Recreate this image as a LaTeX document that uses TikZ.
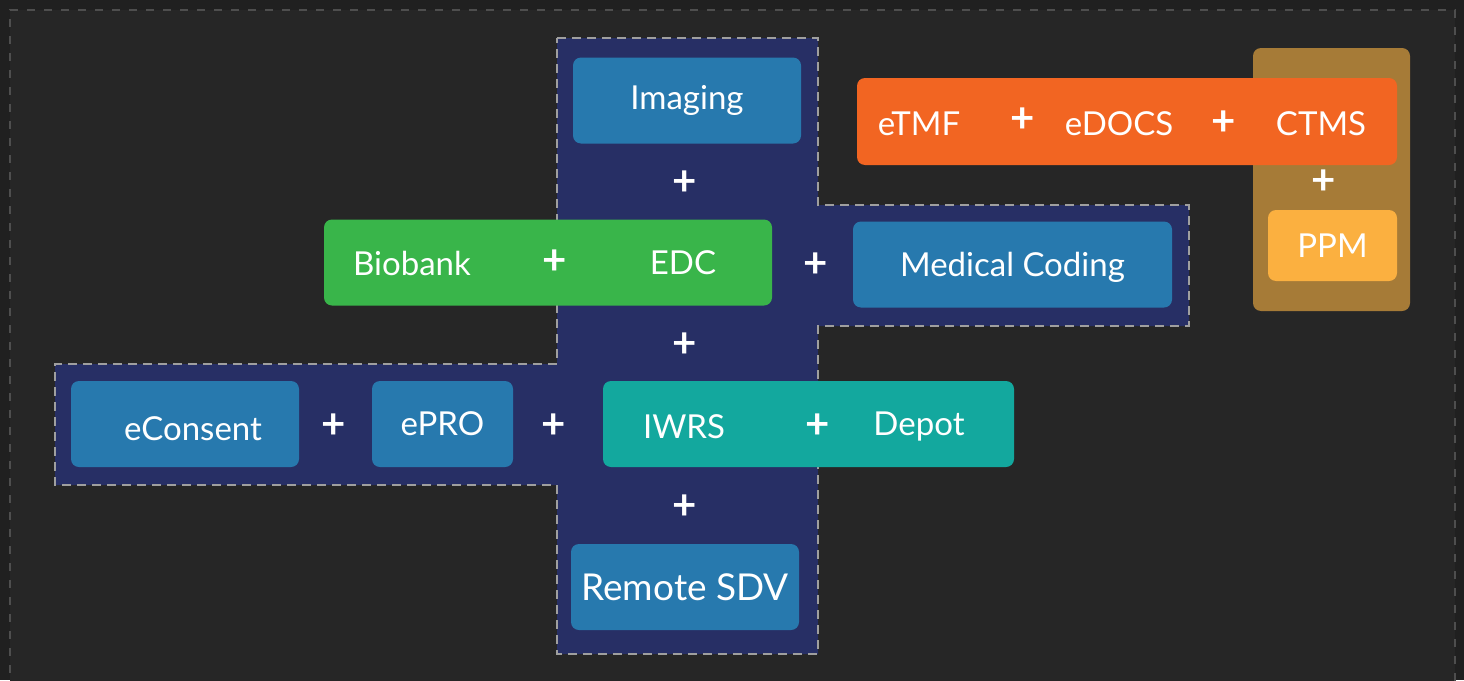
\documentclass[tikz,border=0pt]{standalone}
\usepackage{fontspec}
\setmainfont{Lato}
\definecolor{fundo}{HTML}{262626}
\definecolor{fora}{HTML}{202020}
\definecolor{marinho}{HTML}{272F65}
\definecolor{azul}{HTML}{2779AE}
\definecolor{verde}{HTML}{39B54A}
\definecolor{turquesa}{HTML}{13A89E}
\definecolor{laranja}{HTML}{F26522}
\definecolor{marrom}{HTML}{A67B37}
\definecolor{amarelo}{HTML}{FBB040}
\begin{document}
\begin{tikzpicture}[
  x=1pt, y=-1pt,
  every node/.style={text=white, inner sep=0pt, font=\fontsize{33}{38}\selectfont},
  caixa/.style={rounded corners=8pt, minimum height=86pt}
]
\tikzset{
  mais/.style={font=\fontsize{42}{42}\selectfont\bfseries},
  tracejado/.style={draw=gray!75, line width=2.8pt, dash pattern=on 9pt off 6pt}
}
\useasboundingbox (0,0) rectangle (1464,680);
\fill[fora] (0,0) rectangle (1464,680);
\fill[fundo] (10,10) rectangle (1455,690);
\draw[draw=gray!45!fundo, line width=2.8pt, dash pattern=on 8pt off 9pt] (10,690) -- (10,10) -- (1455,10) -- (1455,690);
% cruz central
\draw[tracejado, fill=marinho] (557,38) -- (818,38) -- (818,205) -- (1189,205) -- (1189,326)
  -- (818,326) -- (818,654) -- (557,654) -- (557,485) -- (55,485) -- (55,364) -- (557,364) -- cycle;
% painel marrom
\node[caixa, fill=marrom, minimum width=157pt, minimum height=263pt] (painel) at (1331.5,179.5) {};
\node[caixa, fill=laranja, minimum width=540pt, minimum height=87pt] (laranja) at (1127,121.5) {};
\node (etmf) at (919,124) {eTMF};
\node[mais] (m1) at (1023,120) {+};
\node (edocs) at (1119,124) {eDOCS};
\node[mais] (m2) at (1224,123) {+};
\node (ctms) at (1321,124) {CTMS};
\node[mais] (m3) at (1324,182) {+};
\node[caixa, fill=amarelo, minimum width=129pt, minimum height=71pt] (ppm) at (1332.5,245.5) {PPM};
% caixas azuis
\node[caixa, fill=azul, minimum width=228pt] (imaging) at (687,100.5) {Imaging};
\node[mais] (m4) at (685,183) {+};
\node[caixa, fill=verde, minimum width=448pt] (verde) at (548,262.5) {};
\node (biobank) at (412,263) {Biobank};
\node[mais] (m5) at (555,262) {+};
\node (edc) at (683,263) {EDC};
\node[mais] (m6) at (816,265) {+};
\node[caixa, fill=azul, minimum width=319pt, text depth=0pt] (coding) at (1012.5,264.5) {Medical Coding};
\node[mais] (m7) at (685,345) {+};
\node[caixa, fill=azul, minimum width=228pt, text height=32pt, text depth=0pt] (econsent) at (185,424) {\hspace{16pt}eConsent};
\node[mais] (m8) at (334,426) {+};
\node[caixa, fill=azul, minimum width=141pt] (epro) at (442.5,424) {ePRO};
\node[mais] (m9) at (554,426) {+};
\node[caixa, fill=turquesa, minimum width=411pt] (turquesa) at (808.5,424) {};
\node (iwrs) at (684,427) {IWRS};
\node[mais] (m10) at (818,426) {+};
\node (depot) at (919,427) {Depot};
\node[mais] (m11) at (685,507) {+};
\node[caixa, fill=azul, minimum width=228pt, font=\fontsize{37}{40}\selectfont] (sdv) at (685,587) {Remote SDV};
\end{tikzpicture}
\end{document}
